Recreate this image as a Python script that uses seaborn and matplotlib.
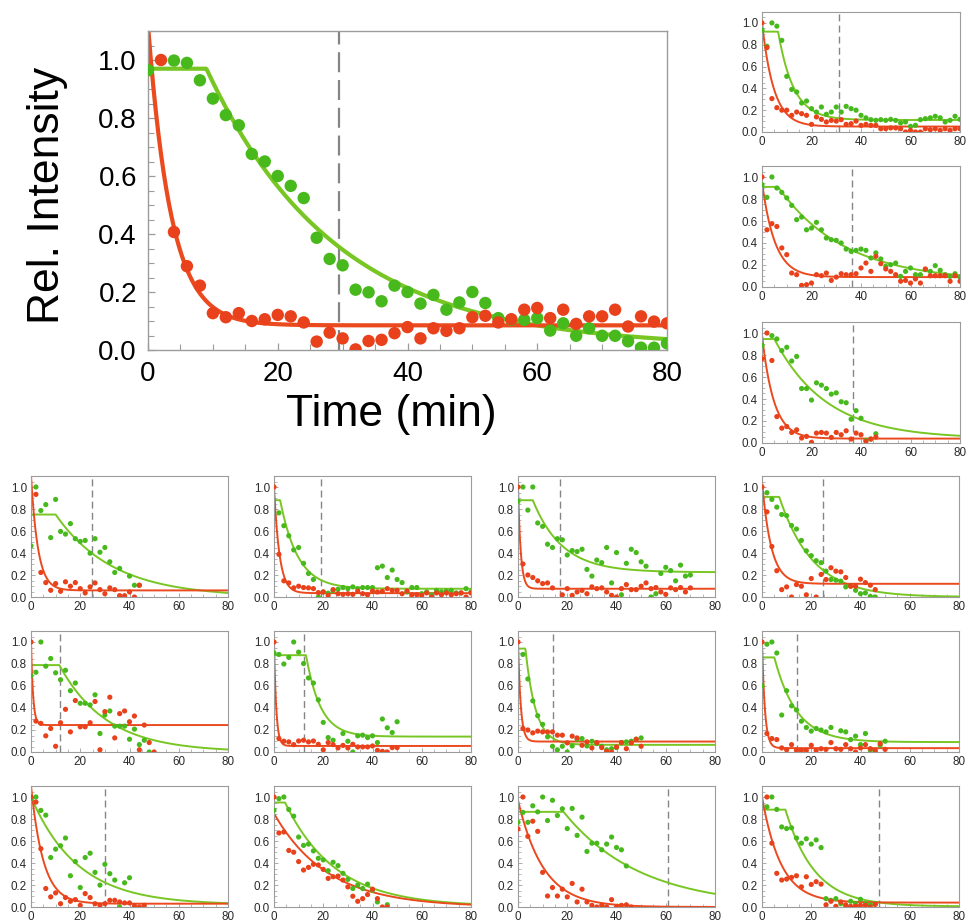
import numpy as np
import pandas as pd
import matplotlib
matplotlib.use("Agg")
import matplotlib.pyplot as plt
import seaborn as sns
from matplotlib.ticker import MultipleLocator, FormatStrFormatter

nan = np.nan

# ---------------- data (sampled every 2 min starting at t=0) ----------------
main_green = [0.965, nan, 0.998, 0.99, 0.93, 0.867, 0.81, 0.775, 0.676, 0.65, 0.60, 0.566, 0.524,
              0.387, 0.314, 0.292, 0.208, 0.199, 0.168, 0.222, 0.20, 0.16, 0.19, 0.139, 0.164, 0.20,
              0.162, 0.11, 0.104, 0.104, 0.11, 0.067, 0.092, 0.049, 0.075, 0.049, 0.049, 0.03, 0.008,
              0.008, 0.023]
main_red = [nan, 1.0, 0.407, 0.289, 0.222, 0.127, 0.113, 0.127, 0.10, 0.106, 0.121, 0.116, 0.095,
            0.029, 0.06, 0.04, 0.002, 0.031, 0.035, 0.058, 0.079, 0.04, 0.075, 0.066, 0.075, 0.113,
            0.118, 0.095, 0.106, 0.139, 0.145, 0.11, 0.139, 0.09, 0.116, 0.116, 0.139, 0.081, 0.116,
            0.098, 0.092]

r1_green = [0.933, 0.786, 1.0, 0.97, 0.84, 0.51, 0.39, 0.367, 0.266, 0.284, 0.214, 0.183, 0.229,
            0.162, 0.183, 0.229, 0.183, 0.235, 0.214, 0.2, 0.153, 0.13, 0.113, 0.107, 0.113, 0.107,
            0.116, 0.107, 0.083, 0.092, 0.052, 0.061, 0.113, 0.122, 0.13, 0.144, 0.13, 0.092, 0.107,
            0.144, 0.116]
r1_red = [1.0, 0.774, 0.306, 0.223, 0.2, 0.2, 0.153, 0.183, 0.168, 0.153, 0.07, 0.138, 0.116, 0.092,
          0.107, 0.1, 0.113, 0.07, 0.076, 0.1, 0.061, 0.07, 0.061, 0.061, 0.03, 0.03, 0.037, 0.037,
          0.03, 0.0, 0.015, 0.0, 0.0, 0.03, 0.021, 0.03, 0.015, 0.03, 0.015, 0.03, 0.03]

r2_green = [0.93, 0.815, 1.0, 0.9, 0.86, 0.81, 0.742, 0.612, 0.636, 0.52, 0.536, 0.588, 0.52, 0.445,
            0.43, 0.424, 0.4, 0.345, 0.324, 0.333, 0.345, 0.333, 0.264, 0.31, 0.255, 0.188, 0.203,
            0.218, 0.097, 0.142, 0.173, 0.112, 0.112, 0.158, 0.142, 0.194, 0.152, 0.112, 0.097,
            0.121, 0.09]
r2_red = [1.0, 0.52, 0.576, 0.55, 0.355, 0.294, 0.127, 0.112, 0.015, 0.021, 0.036, 0.112, 0.103,
          0.127, 0.06, 0.09, 0.121, 0.112, 0.112, 0.121, 0.173, 0.218, 0.142, 0.279, 0.212, 0.164,
          0.142, 0.112, 0.052, 0.06, 0.036, 0.073, 0.036, 0.164, 0.103, 0.103, 0.103, 0.103, 0.052,
          0.103, 0.052]

r3_green = [0.886, nan, 0.976, 0.946, 0.84, 0.87, 0.745, 0.787, 0.495, 0.495, 0.39, 0.547, 0.526,
            0.495, 0.444, 0.456, 0.375, 0.366, 0.216, 0.294, 0.225, 0.024, 0.036, 0.084]
r3_red = [0.766, 1.0, 0.75, 0.24, 0.135, 0.15, 0.096, 0.12, 0.045, 0.06, 0.006, 0.09, 0.096, 0.09,
          0.051, 0.096, 0.075, 0.111, 0.036, 0.09, 0.075, 0.015, 0.036, 0.054]

b1_green = [0.465, 1.0, 0.786, 0.84, 0.54, 0.887, 0.596, 0.572, 0.667, 0.53, 0.505, 0.514, 0.398,
            0.53, 0.407, 0.45, 0.32, 0.223, 0.26, nan, 0.19, 0.107, 0.107]
b1_red = [nan, 0.933, 0.223, 0.131, 0.061, 0.122, 0.052, 0.138, 0.098, 0.131, 0.076, 0.037, 0.092,
          0.128, 0.067, 0.03, 0.083, 0.067, 0.012, 0.012, 0.046, 0.0, 0.107]

b2_green = [nan, 0.765, 0.648, 0.557, 0.428, 0.45, 0.306, 0.214, 0.159, 0.0, 0.046, 0.035, 0.06,
            0.07, 0.086, 0.076, 0.092, 0.076, 0.086, 0.086, 0.086, 0.266, 0.281, 0.177, 0.245,
            0.159, 0.131, 0.046, 0.086, 0.086, 0.03, 0.046, 0.02, 0.06, 0.046, 0.055, 0.06, 0.037,
            0.037, 0.076, 0.046]
b2_red = [1.0, 0.388, 0.147, 0.128, 0.083, 0.098, 0.086, 0.083, 0.076, 0.04, 0.046, 0.015, 0.067,
          0.03, 0.024, 0.03, 0.024, 0.052, 0.03, 0.02, 0.055, 0.046, 0.052, 0.076, 0.06, 0.06, 0.03,
          0.055, 0.02, 0.02, 0.015, 0.037, 0.0, 0.037, 0.02, 0.037, 0.02, 0.03, 0.037, 0.0, 0.037]

b3_green = [0.87, 1.0, 0.79, 1.0, 0.673, 0.642, 0.48, 0.45, 0.53, 0.52, 0.382, 0.422, 0.413, 0.434,
            0.251, 0.19, 0.336, 0.312, 0.45, 0.128, 0.404, 0.02, 0.306, 0.434, 0.404, 0.32, 0.28,
            0.0, 0.03, 0.214, 0.27, 0.24, 0.147, 0.29, 0.19, 0.2]
b3_red = [1.0, 0.3, 0.2, 0.177, 0.147, 0.122, 0.128, 0.083, nan, 0.02, 0.076, 0.015, 0.046, 0.06,
          0.03, 0.092, 0.076, 0.083, 0.046, 0.015, 0.0, 0.076, 0.113, 0.067, 0.067, 0.098, 0.128,
          0.076, 0.086, 0.046, 0.024, 0.083, 0.067, 0.086, 0.046, 0.083]

b4_green = [nan, 0.948, 0.887, 0.817, 0.75, 0.74, 0.65, 0.618, 0.514, 0.42, 0.376, 0.33, 0.312,
            0.235, 0.159, 0.153, 0.144, 0.092, 0.098, 0.061, 0.03, 0.037, 0.006, 0.0]
b4_red = [1.0, 0.774, 0.459, 0.239, 0.067, 0.092, 0.0, 0.113, 0.098, 0.02, 0.168, 0.0, 0.205, 0.159,
          0.266, 0.235, 0.229, 0.177, 0.098, 0.098, 0.162, 0.131, 0.107, 0.067]

b5_green = [0.694, 0.725, 1.0, 0.78, 0.85, 0.72, 0.657, 0.743, 0.557, 0.627, 0.443, 0.443, 0.428,
            0.52, 0.168, 0.336, 0.373, 0.235, 0.235, 0.235, 0.116, 0.208, 0.067, 0.107, 0.0]
b5_red = [1.0, 0.281, 0.26, 0.147, 0.214, 0.052, 0.266, 0.388, 0.183, 0.468, 0.229, 0.229, 0.266,
          0.459, 0.02, 0.367, 0.498, 0.128, 0.349, 0.373, 0.275, 0.327, 0.02, 0.245, 0.086, 0.0]

b6_green = [0.9, 0.887, 0.8, 0.86, 1.0, 0.908, 0.804, 0.673, 0.627, 0.474, 0.269, 0.131, 0.107, nan,
            0.168, 0.098, 0.0, 0.147, 0.153, 0.131, 0.147, 0.086, 0.3, 0.22, 0.177, 0.275]
b6_red = [1.0, 0.122, 0.098, 0.092, 0.067, 0.1, 0.107, 0.092, 0.1, 0.07, 0.02, 0.086, 0.067, 0.037,
          0.06, 0.037, 0.07, 0.046, 0.046, 0.046, 0.055, 0.015, 0.006, 0.0, 0.04, 0.04]

b7_green = [nan, 0.887, 0.664, 0.465, 0.33, 0.251, 0.138, 0.052, 0.02, 0.052, 0.0, 0.055, 0.116,
            0.122, 0.055, 0.098, 0.076, 0.052, 0.02, 0.03, 0.04, 0.086, 0.092, 0.098, 0.116, 0.128]
b7_red = [1.0, 0.214, 0.2, 0.174, 0.19, 0.183, 0.183, 0.183, 0.153, 0.153, 0.083, 0.144, 0.128,
          0.061, 0.092, 0.037, 0.086, 0.04, 0.006, 0.0, 0.046, 0.086, 0.03, 0.083, 0.116, 0.052]

b8_green = [0.602, 0.98, 1.0, 0.9, 0.336, 0.557, 0.42, 0.382, 0.28, 0.223, 0.19, 0.214, 0.2, 0.183,
            0.223, nan, 0.193, 0.183, 0.113, 0.144, 0.067, 0.168, 0.015, 0.0, 0.061, 0.098]
b8_red = [1.0, 0.168, 0.122, 0.113, 0.037, 0.02, 0.067, 0.015, 0.015, 0.015, 0.061, 0.015, 0.03,
          0.024, 0.086, 0.03, 0.024, 0.067, 0.03, 0.0, 0.037, 0.067, 0.03, 0.015, 0.076, 0.024]

b9_green = [0.985, 1.0, 0.878, 0.835, 0.45, 0.526, 0.557, 0.627, 0.284, 0.413, 0.177, 0.45, 0.489,
            0.315, 0.199, 0.388, 0.303, 0.245, 0.0, 0.22, 0.266]
b9_red = [1.0, 0.954, 0.53, 0.168, 0.092, 0.128, 0.03, 0.086, 0.052, 0.067, 0.015, 0.122, 0.086,
          0.03, 0.015, 0.03, 0.061, 0.061, 0.046, 0.037, 0.037, 0.009, 0.0, 0.015]

b10_green = [0.88, 0.985, 1.0, 0.887, 0.826, 0.636, 0.56, 0.572, 0.51, 0.443, 0.428, 0.33, 0.407,
             0.376, 0.306, 0.251, 0.168, 0.199, 0.168, 0.208, 0.153, 0.046, nan, 0.02]
b10_red = [1.0, 0.673, 0.682, 0.514, 0.498, 0.413, 0.336, 0.36, 0.388, 0.382, 0.342, 0.26, 0.275,
           0.281, 0.245, 0.183, 0.098, 0.052, 0.076, 0.113, 0.162, 0.076, 0.0, 0.0]

b11_green = [0.77, 0.86, 0.77, 0.92, 0.865, 1.0, 0.786, 0.97, 0.832, 0.893, 0.713, 0.896, 0.651,
             0.817, 0.505, 0.58, 0.58, 0.52, 0.572, 0.636, 0.541, 0.52, 0.373]
b11_red = [0.71, 1.0, 0.642, 0.78, 0.688, 0.315, 0.1, 0.177, 0.1, 0.162, 0.092, 0.214, 0.046, 0.162,
           0.046, 0.015, 0.0, 0.015, 0.0, 0.067, 0.0, 0.015, 0.02, 0.0]

b12_green = [nan, 0.911, 1.0, 0.887, 0.728, 0.713, 0.72, 0.627, 0.58, 0.62, 0.572, 0.61, 0.54,
             0.076, 0.06, 0.076, 0.03, 0.0, 0.052, 0.03, 0.07, 0.03, 0.02, 0.03]
b12_red = [nan, 1.0, 0.58, 0.306, 0.245, 0.254, 0.269, 0.284, 0.183, 0.275, 0.205, 0.23, 0.208,
           0.02, 0.052, 0.006, 0.046, 0.02, 0.006, 0.006, 0.015, 0.015, 0.0, 0.024]

# fitted-curve parameters: (plateau, lag, rate, floor)
fit_green = {
    "main": (0.97, 9.0, 0.05, 0.01), "r1": (0.92, 6.5, 0.16, 0.11), "r2": (0.91, 6.5, 0.037, 0.05),
    "r3": (0.945, 5.0, 0.0476, 0.04), "b1": (0.75, 10.0, 0.043, 0.0), "b2": (0.88, 2.5, 0.14, 0.075),
    "b3": (0.88, 6.0, 0.084, 0.225), "b4": (0.91, 7.0, 0.074, 0.0), "b5": (0.79, 11.5, 0.052, 0.0),
    "b6": (0.88, 13.0, 0.17, 0.14), "b7": (0.94, 3.0, 0.24, 0.065), "b8": (0.86, 5.0, 0.11, 0.09),
    "b9": (1.0, 0.0, 0.0525, 0.02), "b10": (0.95, 4.5, 0.049, 0.005), "b11": (0.865, 18.5, 0.0322, 0.0),
    "b12": (0.885, 9.5, 0.084, 0.005),
}
fit_red = {
    "main": (1.12, 0.0, 0.28, 0.085), "r1": (1.0, 0.0, 0.21, 0.05), "r2": (0.95, 0.0, 0.19, 0.09),
    "r3": (0.98, 0.0, 0.21, 0.04), "b1": (1.1, 0.0, 0.35, 0.06), "b2": (1.0, 0.0, 0.45, 0.035),
    "b3": (1.0, 0.0, 0.9, 0.075), "b4": (1.05, 0.0, 0.27, 0.12), "b5": (1.0, 0.0, 1.2, 0.245),
    "b6": (1.0, 0.0, 1.1, 0.055), "b7": (1.0, 0.0, 0.9, 0.095), "b8": (1.0, 0.0, 0.85, 0.035),
    "b9": (1.1, 0.0, 0.2, 0.03), "b10": (0.85, 0.0, 0.046, 0.0), "b11": (0.97, 0.0, 0.097, 0.0),
    "b12": (1.0, 0.0, 0.13, 0.04),
}
dash_time = {"main": 29.4, "r1": 31.0, "r2": 36.5, "r3": 36.9, "b1": 24.6, "b2": 18.9, "b3": 17.2,
             "b4": 24.6, "b5": 11.6, "b6": 12.3, "b7": 14.2, "b8": 14.05, "b9": 29.9, "b10": None,
             "b11": 60.8, "b12": 47.6}

series = {
    "main": (main_green, main_red), "r1": (r1_green, r1_red), "r2": (r2_green, r2_red),
    "r3": (r3_green, r3_red), "b1": (b1_green, b1_red), "b2": (b2_green, b2_red),
    "b3": (b3_green, b3_red), "b4": (b4_green, b4_red), "b5": (b5_green, b5_red),
    "b6": (b6_green, b6_red), "b7": (b7_green, b7_red), "b8": (b8_green, b8_red),
    "b9": (b9_green, b9_red), "b10": (b10_green, b10_red), "b11": (b11_green, b11_red),
    "b12": (b12_green, b12_red),
}

# ---------------- styling ----------------
sns.set_style("ticks")
plt.rcParams["font.family"] = ["Liberation Sans", "DejaVu Sans"]

GREEN_PT = "#48b91d"
GREEN_LN = "#78c623"
RED_PT = "#e8411b"
RED_LN = "#ea4a1e"
SPINE = "#9c9c9c"

W, H = 966, 923
fig = plt.figure(figsize=(W / 100, H / 100), dpi=100)
fig.patch.set_facecolor("white")


def rect(l, t, r, b):
    return [l / W, 1 - b / H, (r - l) / W, (b - t) / H]


boxes = {"main": rect(148, 31, 667, 350),
         "r1": rect(762, 12, 960, 132), "r2": rect(762, 166, 960, 287), "r3": rect(762, 322, 960, 443)}
col_l = [31, 274, 518, 762]
row_t = [476, 631, 786]
k = 1
for rt in row_t:
    for cl in col_l:
        boxes[f"b{k}"] = rect(cl, rt, cl + 197, rt + 121)
        k += 1


def curve(t, p):
    a, lag, rate, floor = p
    return np.where(t < lag, a, floor + (a - floor) * np.exp(-rate * (t - lag)))


tt = np.linspace(0, 80, 600)

for name, (g, r) in series.items():
    big = name == "main"
    ax = fig.add_axes(boxes[name])
    ax.set_facecolor("white")
    pts = pd.concat([
        pd.DataFrame({"t": np.arange(len(g)) * 2.0, "y": g, "s": "green"}),
        pd.DataFrame({"t": np.arange(len(r)) * 2.0, "y": r, "s": "red"}),
    ]).dropna()
    lines = pd.concat([
        pd.DataFrame({"t": tt, "y": curve(tt, fit_green[name]), "s": "green"}),
        pd.DataFrame({"t": tt, "y": curve(tt, fit_red[name]), "s": "red"}),
    ])
    if dash_time[name] is not None:
        ax.axvline(dash_time[name], color="#858585",
                   lw=1.6 if big else 1.0,
                   ls=(0, (9, 3.5)) if big else (0, (5, 3)), zorder=1)
    sns.lineplot(data=lines, x="t", y="y", hue="s", palette={"green": GREEN_LN, "red": RED_LN},
                 estimator=None, sort=False, legend=False, lw=3.0 if big else 1.4, ax=ax, zorder=2)
    sns.scatterplot(data=pts, x="t", y="y", hue="s", palette={"green": GREEN_PT, "red": RED_PT},
                    s=80 if big else 14, edgecolor="none", linewidth=0, legend=False, ax=ax,
                    zorder=3)
    ax.set_xlim(0, 80)
    ax.set_ylim(0, 1.1)
    ax.set_xlabel("")
    ax.set_ylabel("")
    ax.xaxis.set_major_locator(MultipleLocator(20))
    ax.xaxis.set_minor_locator(MultipleLocator(5))
    ax.yaxis.set_major_locator(MultipleLocator(0.2))
    ax.yaxis.set_minor_locator(MultipleLocator(0.05))
    ax.yaxis.set_major_formatter(FormatStrFormatter("%.1f"))
    for sp in ax.spines.values():
        sp.set_visible(True)
        sp.set_color(SPINE)
        sp.set_linewidth(1.0 if big else 0.8)
    if big:
        ax.tick_params(which="major", direction="in", length=5, width=0.9, color=SPINE,
                       labelsize=20, labelcolor="black", pad=8)
        ax.tick_params(which="minor", direction="in", length=4, width=0.8, color=SPINE)
    else:
        ax.tick_params(which="major", direction="in", length=3, width=0.6, color=SPINE,
                       labelsize=8.4, labelcolor="#2a2a2a", pad=3)
        ax.tick_params(which="minor", direction="in", length=2, width=0.5, color=SPINE)

fig.text(47 / W, 1 - 195 / H, "Rel. Intensity", rotation=90, ha="center", va="center",
         fontsize=32, color="black")
fig.text(391 / W, 1 - 415 / H, "Time (min)", ha="center", va="center", fontsize=32, color="black")

fig.savefig("out.png", dpi=100, facecolor="white")
